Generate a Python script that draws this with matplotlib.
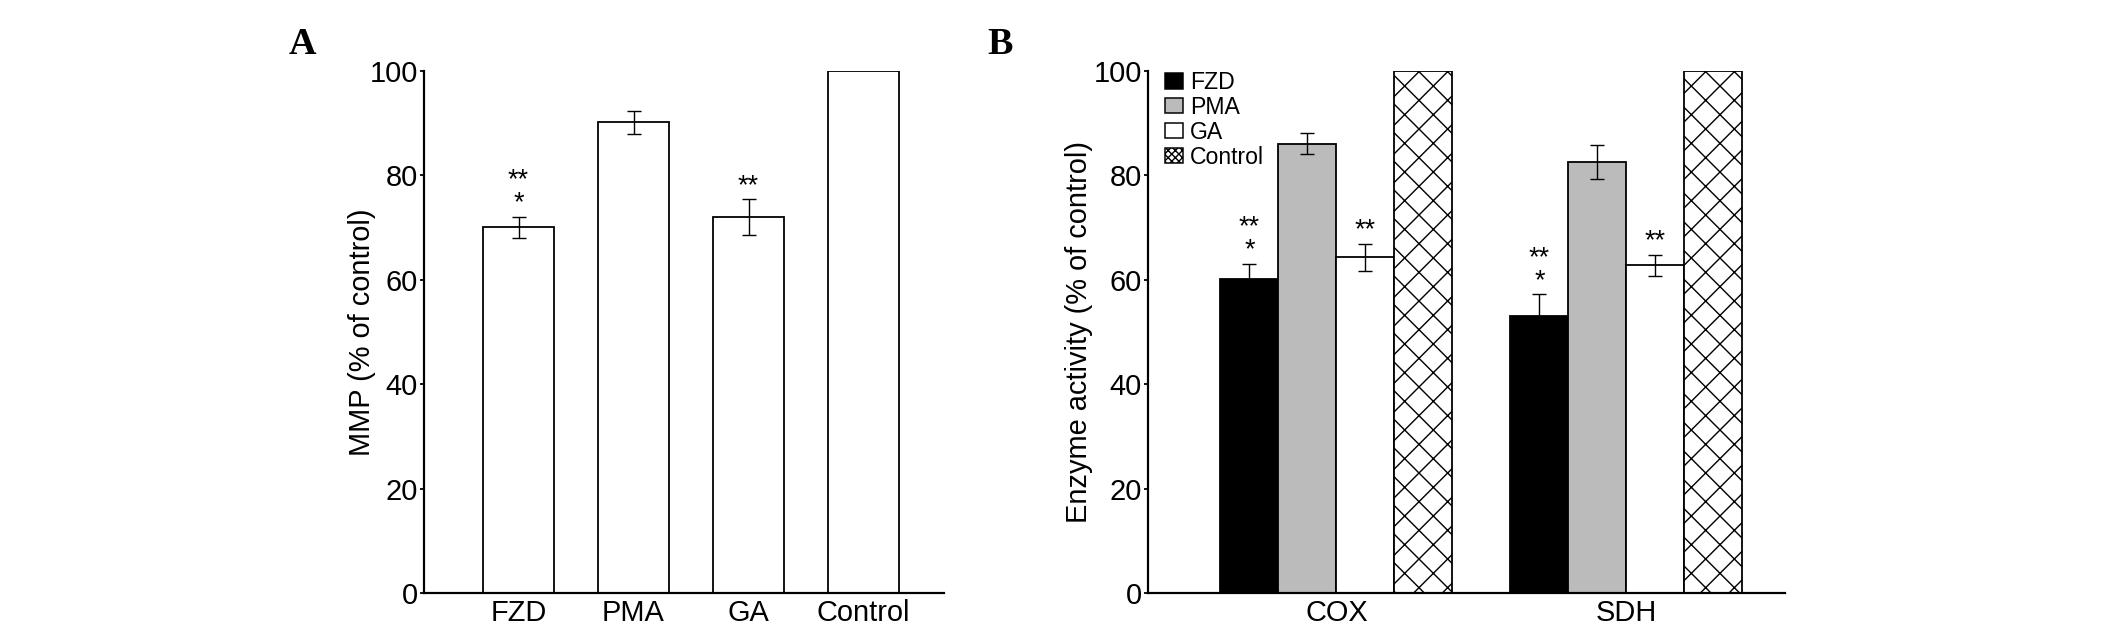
import matplotlib
matplotlib.use("Agg")
import matplotlib.pyplot as plt
from matplotlib.patches import Patch
import numpy as np

DPI = 86
def pt(px):
    return px * 72.0 / DPI

plt.rcParams['font.family'] = ['Liberation Sans', 'DejaVu Sans']
plt.rcParams['hatch.linewidth'] = pt(1.4)

# Panel A data
a_categories = ["FZD", "PMA", "GA", "Control"]
a_values = [70.1, 90.2, 72.0, 100.0]
a_errors = [2.0, 2.2, 3.4, 0.0]
a_stars = ["**\n*", "", "**", ""]

# Panel B data
b_groups = ["COX", "SDH"]
b_series = ["FZD", "PMA", "GA", "Control"]
b_values = {
    "FZD": [60.1, 53.1],
    "PMA": [86.1, 82.6],
    "GA": [64.3, 62.8],
    "Control": [100.0, 100.0],
}
b_errors = {
    "FZD": [2.9, 4.1],
    "PMA": [2.0, 3.3],
    "GA": [2.6, 2.0],
    "Control": [0.0, 0.0],
}
b_stars = {
    "FZD": ["**\n*", "**\n*"],
    "PMA": ["", ""],
    "GA": ["**", "**"],
    "Control": ["", ""],
}
b_colors = {"FZD": "black", "PMA": "#bbbbbb", "GA": "white", "Control": "white"}
b_hatch = {"FZD": None, "PMA": None, "GA": None, "Control": "x"}

W, H = 2126, 635
fig = plt.figure(figsize=(W / DPI, H / DPI), dpi=DPI)

FS = pt(29)
STAR_FS = pt(27)

def style_axes(ax):
    for s in ["top", "right"]:
        ax.spines[s].set_visible(False)
    for s in ["left", "bottom"]:
        ax.spines[s].set_linewidth(pt(2.2))
    ax.tick_params(axis="y", direction="out", length=pt(4), width=pt(1.8), pad=pt(2), labelsize=FS)
    ax.tick_params(axis="x", length=0, pad=pt(6), labelsize=FS)
    ax.set_ylim(0, 100)
    ax.set_yticks([0, 20, 40, 60, 80, 100])

def draw_err_and_stars(ax, x, v, e, stars):
    if e > 0:
        ax.errorbar(x, v, yerr=e, fmt="none", ecolor="black", elinewidth=pt(1.4),
                    capsize=pt(7), capthick=pt(1.4), zorder=3)
    if stars:
        ax.annotate(stars, (x, v + e), xytext=(0, pt(0.5)), textcoords="offset points",
                    ha="center", va="bottom", fontsize=STAR_FS, linespacing=0.85)

# ---------- Panel A ----------
axA = fig.add_axes([424 / W, 1 - 593 / H, (944 - 424) / W, (593 - 71) / H])
xA = np.arange(len(a_categories))
axA.bar(xA, a_values, width=0.617, color="white", edgecolor="black", linewidth=pt(1.8), zorder=2)
for x, v, e, s in zip(xA, a_values, a_errors, a_stars):
    draw_err_and_stars(axA, x, v, e, s)
axA.set_xlim(-0.822, 3.70)
style_axes(axA)
axA.set_xticks(xA)
axA.set_xticklabels(a_categories)
axA.set_ylabel("MMP (% of control)", fontsize=FS)
axA.yaxis.set_label_coords(-0.092, 0.5)

# ---------- Panel B ----------
axB = fig.add_axes([1148 / W, 1 - 593 / H, (1785 - 1148) / W, (593 - 71) / H])
xB = np.arange(len(b_groups))
bw = 0.2
for i, name in enumerate(b_series):
    off = (i - 1.5) * bw
    axB.bar(xB + off, b_values[name], width=bw, color=b_colors[name],
            edgecolor="black", linewidth=pt(1.8), hatch=b_hatch[name], zorder=2)
    for x, v, e, s in zip(xB + off, b_values[name], b_errors[name], b_stars[name]):
        draw_err_and_stars(axB, x, v, e, s)
axB.set_xlim(-0.65, 1.547)
style_axes(axB)
axB.set_xticks(xB)
axB.set_xticklabels(b_groups)
axB.set_ylabel("Enzyme activity (% of control)", fontsize=FS)
axB.yaxis.set_label_coords(-0.086, 0.5)

LFS = 23
handles = [Patch(facecolor=b_colors[n], edgecolor="black", linewidth=pt(1.5),
                 hatch=("xxxx" if b_hatch[n] else None), label=n) for n in b_series]
axB.legend(handles=handles, loc="upper left", bbox_to_anchor=(0.027, 1.0),
           frameon=False, fontsize=pt(LFS), handlelength=18 / LFS, handleheight=15 / LFS,
           handletextpad=0.3, labelspacing=0.08, borderpad=0, borderaxespad=0)

# Panel letters
fig.text(302 / W, 1 - 44 / H, "A", fontsize=pt(38), fontweight="bold",
         family="Liberation Serif", ha="center", va="center")
fig.text(1000 / W, 1 - 45 / H, "B", fontsize=pt(38), fontweight="bold",
         family="Liberation Serif", ha="center", va="center")

fig.savefig("out.png", dpi=DPI)
